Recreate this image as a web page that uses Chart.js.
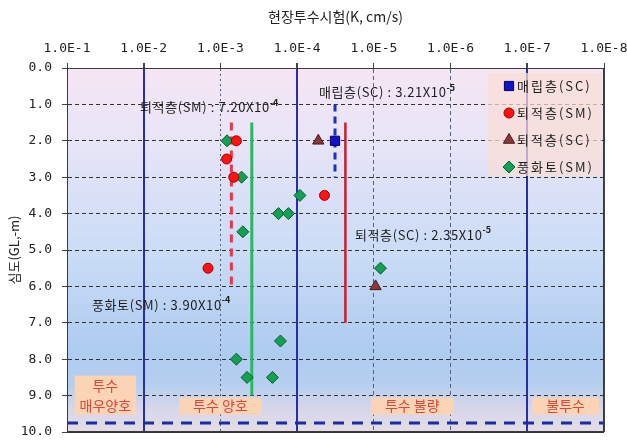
<!DOCTYPE html>
<html>
<head>
<meta charset="utf-8">
<script src="https://cdn.jsdelivr.net/npm/chart.js@4.4.1/dist/chart.umd.min.js"></script>
<style>
  html, body { margin: 0; padding: 0; background: #ffffff; }
  #wrap { width: 627px; height: 441px; }
</style>
</head>
<body>
<div id="wrap"><canvas id="c" width="627" height="441"></canvas></div>
<script>
// ---- axis ticks ----
const kTicks = [1e-1, 1e-2, 1e-3, 1e-4, 1e-5, 1e-6, 1e-7, 1e-8];
const kTickLabels = ['1.0E-1', '1.0E-2', '1.0E-3', '1.0E-4', '1.0E-5', '1.0E-6', '1.0E-7', '1.0E-8'];
const depthTicks = [0, 1, 2, 3, 4, 5, 6, 7, 8, 9, 10];
const depthTickLabels = ['0.0', '1.0', '2.0', '3.0', '4.0', '5.0', '6.0', '7.0', '8.0', '9.0', '10.0'];
const xTitle = '현장투수시험(K, cm/s)';
const yTitle = '심도(GL,-m)';

// ---- permeability classes (boundaries in cm/s) ----
const zoneBounds = [1e-2, 1e-4, 1e-7];
const zoneNames = [['투수', '매우양호'], ['투수 양호'], ['투수 불량'], ['불투수']];

// ---- field test results: depth (m) and K (cm/s) per layer ----
const fillScLabel = '매립층(SC)';
const fillScDepth = [2.0];
const fillScK = [3.21e-5];

const sedSmLabel = '퇴적층(SM)';
const sedSmDepth = [2.0, 2.5, 3.0, 3.5, 5.5];
const sedSmK = [6.2e-4, 8.3e-4, 6.7e-4, 4.4e-5, 1.45e-3];

const sedScLabel = '퇴적층(SC)';
const sedScDepth = [2.0, 6.0];
const sedScK = [5.3e-5, 9.5e-6];

const weatheredLabel = '풍화토(SM)';
const weatheredDepth = [2.0, 3.0, 3.5, 4.0, 4.0, 4.5, 5.5, 7.5, 8.0, 8.5, 8.5];
const weatheredK = [8.2e-4, 5.3e-4, 9.2e-5, 1.75e-4, 1.3e-4, 5.1e-4, 8.2e-6, 1.65e-4, 6.2e-4, 4.5e-4, 2.1e-4];

// ---- layer mean K and the depth range each mean line covers ----
const meanNames = ['퇴적층(SM)', '풍화토(SM)', '매립층(SC)', '퇴적층(SC)'];
const meanK = [7.20e-4, 3.90e-4, 3.21e-5, 2.35e-5];
const meanTop = [1.5, 1.5, 1.0, 1.5];
const meanBottom = [6.0, 9.0, 3.0, 7.0];

// ---- groundwater level (m) ----
const gwlDepth = 9.75;

const pts = (ks, ds) => ks.map((k, i) => ({ x: k, y: ds[i] }));
const decade = v => Math.round(Math.log10(v));

const FONT_KR = '"Noto Sans CJK KR", "Noto Sans", sans-serif';
const FONT_NUM = '"DejaVu Sans Mono", "Liberation Mono", monospace';

const meanStyles = [
  { color: '#e8364c', width: 3, dash: [8, 6] },
  { color: '#2cb664', width: 3, dash: [] },
  { color: '#1f2fc0', width: 3, dash: [7, 5] },
  { color: '#c8202e', width: 2.5, dash: [] }
];

const meanDatasets = meanK.map((k, i) => ({
  label: meanNames[i] + ' mean',
  data: [{ x: k, y: meanTop[i] }, { x: k, y: meanBottom[i] }],
  showLine: true,
  pointRadius: 0,
  borderColor: meanStyles[i].color,
  borderWidth: meanStyles[i].width,
  borderDash: meanStyles[i].dash,
  order: 3
}));

const gwlDataset = {
  label: 'GWL',
  data: [{ x: kTicks[0], y: gwlDepth }, { x: kTicks[kTicks.length - 1], y: gwlDepth }],
  showLine: true,
  pointRadius: 0,
  borderColor: '#1b2c9e',
  borderWidth: 3,
  borderDash: [11, 8],
  order: 4
};

const layerDatasets = [
  { label: fillScLabel, data: pts(fillScK, fillScDepth), pointStyle: 'rect', pointRadius: 6.5,
    backgroundColor: '#1212c8', borderColor: '#000060', borderWidth: 1, order: 1 },
  { label: sedSmLabel, data: pts(sedSmK, sedSmDepth), pointStyle: 'circle', pointRadius: 5,
    backgroundColor: '#ff1212', borderColor: '#a00000', borderWidth: 1, order: 1 },
  { label: sedScLabel, data: pts(sedScK, sedScDepth), pointStyle: 'triangle', pointRadius: 6.5,
    backgroundColor: '#8b3838', borderColor: '#4a1818', borderWidth: 1, order: 1 },
  { label: weatheredLabel, data: pts(weatheredK, weatheredDepth), pointStyle: 'rectRot', pointRadius: 6,
    backgroundColor: '#12a052', borderColor: '#0a5c2e', borderWidth: 1, order: 1 }
];

// background gradient inside the plot area
const bgPlugin = {
  id: 'bg',
  beforeDraw(chart) {
    const { ctx, chartArea: a } = chart;
    const g = ctx.createLinearGradient(0, a.top, 0, a.bottom);
    g.addColorStop(0.00, '#f6e6f4');
    g.addColorStop(0.22, '#e6e4f7');
    g.addColorStop(0.50, '#cbdcf6');
    g.addColorStop(0.78, '#aecbf0');
    g.addColorStop(0.87, '#b6cfef');
    g.addColorStop(0.93, '#d4d6ea');
    g.addColorStop(1.00, '#e6dce6');
    ctx.save();
    ctx.fillStyle = g;
    ctx.fillRect(a.left, a.top, a.right - a.left, a.bottom - a.top);
    ctx.restore();
  }
};

// permeability class boxes along the bottom
const zonePlugin = {
  id: 'zones',
  beforeDatasetsDraw(chart) {
    const { ctx } = chart;
    const xs = chart.scales.x, ys = chart.scales.y;
    const edges = [kTicks[0], ...zoneBounds, kTicks[kTicks.length - 1]];
    ctx.save();
    ctx.font = '14px ' + FONT_KR;
    ctx.textAlign = 'center';
    ctx.textBaseline = 'middle';
    zoneNames.forEach((lines, i) => {
      const x0 = xs.getPixelForValue(edges[i]);
      const x1 = xs.getPixelForValue(edges[i + 1]);
      const cx = (x0 + x1) / 2;
      const tw = Math.max(...lines.map(l => ctx.measureText(l).width));
      const bottom = ys.getPixelForValue(9.0) + 19;
      const lh = 20;
      const h = lines.length > 1 ? 39 : 17;
      const w = lines.length > 1 ? tw + 10 : tw + 28;
      ctx.fillStyle = '#fbd4b6';
      ctx.fillRect(cx - w / 2, bottom - h, w, h);
      ctx.fillStyle = '#d8473a';
      lines.forEach((l, j) => {
        const cy = lines.length > 1 ? bottom - h + 10 + j * lh : bottom - h / 2;
        ctx.fillText(l, cx, cy);
      });
    });
    ctx.restore();
  }
};

// plot frame, mean-value labels and legend
const overlayPlugin = {
  id: 'overlay',
  afterDatasetsDraw(chart) {
    const { ctx, chartArea: a } = chart;
    const ys = chart.scales.y;
    ctx.save();
    ctx.strokeStyle = '#3a3a3a';
    ctx.lineWidth = 1;
    ctx.strokeRect(a.left + 0.5, a.top + 0.5, a.right - a.left - 1, a.bottom - a.top - 1);

    // mean value labels
    const labelPos = [
      { dx: 140 - a.left, y: 1.08 },
      { dx: 92 - a.left, y: 6.5 },
      { dx: 319 - a.left, y: 0.67 },
      { dx: 355 - a.left, y: 4.58 }
    ];
    ctx.fillStyle = '#1e1e1e';
    ctx.textBaseline = 'middle';
    ctx.textAlign = 'left';
    meanK.forEach((k, i) => {
      const exp = Math.floor(Math.log10(k));
      const mant = (k / Math.pow(10, exp)).toFixed(2);
      const base = meanNames[i] + ' : ' + mant + 'X10';
      const x = a.left + labelPos[i].dx;
      const y = ys.getPixelForValue(labelPos[i].y);
      ctx.font = '13px ' + FONT_KR;
      ctx.letterSpacing = '0.6px';
      ctx.fillText(base, x, y);
      const w = ctx.measureText(base).width;
      ctx.font = 'bold 9px ' + FONT_KR;
      ctx.letterSpacing = '0px';
      ctx.fillText(String(exp), x + w, y - 5);
    });

    // legend
    const lx0 = 488, ly0 = 73, lw = 114, lh = 103;
    ctx.fillStyle = 'rgba(250, 222, 214, 0.72)';
    ctx.fillRect(lx0, ly0, lw, lh);
    ctx.font = '13px ' + FONT_KR;
    ctx.letterSpacing = '2px';
    ctx.textBaseline = 'middle';
    ctx.textAlign = 'left';
    layerDatasets.forEach((ds, i) => {
      const cy = ly0 + 13 + i * 27;
      ctx.fillStyle = ds.backgroundColor;
      ctx.strokeStyle = ds.borderColor;
      ctx.lineWidth = 1;
      Chart.helpers.drawPoint(ctx, {
        pointStyle: ds.pointStyle, radius: ds.pointRadius, borderWidth: 1, rotation: 0
      }, lx0 + 21, cy);
      ctx.fillStyle = '#1e1e1e';
      ctx.fillText(ds.label, lx0 + 29, cy);
    });
    ctx.restore();
  }
};

// keep the plot area fixed: no extra room reserved for overhanging end labels
const noOverhang = s => { s.paddingLeft = 0; s.paddingRight = 0; s.paddingTop = 0; s.paddingBottom = 0; };

const chart = new Chart(document.getElementById('c'), {
  type: 'scatter',
  data: { datasets: [...layerDatasets, ...meanDatasets, gwlDataset] },
  options: {
    responsive: false,
    animation: false,
    devicePixelRatio: 1,
    layout: { padding: { left: 0, right: 23, top: 0, bottom: 9 } },
    plugins: { legend: { display: false }, tooltip: { enabled: false } },
    scales: {
      x: {
        type: 'logarithmic',
        position: 'top',
        reverse: true,
        min: kTicks[kTicks.length - 1],
        max: kTicks[0],
        afterBuildTicks: s => { s.ticks = kTicks.map(v => ({ value: v, major: true })); },
        afterFit: s => { s.height = 68; noOverhang(s); },
        ticks: {
          autoSkip: false, maxRotation: 0, padding: 7, color: '#222',
          font: { family: FONT_NUM, size: 13 },
          callback: v => kTickLabels[kTicks.findIndex(t => decade(t) === decade(v))]
        },
        grid: {
          tickLength: 5,
          tickColor: '#444',
          color: c => {
            if (!c.tick) return '#444';
            const v = c.tick.value;
            if (zoneBounds.some(b => decade(b) === decade(v))) return '#2a2ea6';
            if (decade(v) === -1 || decade(v) === -8) return '#444';
            return '#55627e';
          },
          lineWidth: c => (c.tick && zoneBounds.some(b => decade(b) === decade(c.tick.value))) ? 2 : 1
        },
        border: {
          display: true, color: '#333', width: 1,
          dash: c => {
            if (!c.tick) return [];
            const d = decade(c.tick.value);
            if (d === -1 || d === -8 || zoneBounds.some(b => decade(b) === d)) return [];
            return d === -3 ? [2, 3] : [4, 3];
          }
        },
        title: {
          display: true, text: xTitle, color: '#222',
          font: { family: FONT_KR, size: 14 },
          padding: { top: 8, bottom: 2 }
        }
      },
      y: {
        type: 'linear',
        reverse: true,
        min: 0,
        max: 10,
        afterBuildTicks: s => { s.ticks = depthTicks.map(v => ({ value: v })); },
        afterFit: s => { s.width = 67; noOverhang(s); },
        ticks: {
          color: '#222', padding: 10,
          font: { family: FONT_NUM, size: 13 },
          callback: v => depthTickLabels[depthTicks.indexOf(v)]
        },
        grid: { tickLength: 5, tickColor: '#444', color: '#333', lineWidth: 1 },
        border: {
          display: true, color: '#444', width: 1,
          dash: c => (c.tick && c.tick.value > 0 && c.tick.value < 10) ? [4, 3] : []
        },
        title: {
          display: true, text: yTitle, color: '#222',
          font: { family: FONT_KR, size: 13 },
          padding: { top: 6, bottom: 2 }
        }
      }
    }
  },
  plugins: [bgPlugin, zonePlugin, overlayPlugin]
});
</script>
</body>
</html>
